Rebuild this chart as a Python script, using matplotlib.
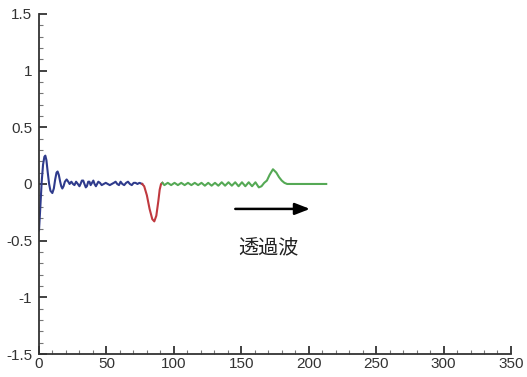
import numpy as np
import matplotlib.pyplot as plt
from matplotlib.ticker import MultipleLocator, FormatStrFormatter

plt.rcParams['axes.unicode_minus'] = False

# incident part (blue)
blue_x = [0, 1, 2, 3, 4, 4.7, 5.5, 6.5, 7.5, 8.5, 9.9, 11, 12, 13, 13.8, 14.7, 15.7, 16.5,
          17.3, 18.2, 19.2, 20.5, 21.7, 22.7, 24, 25.2, 26.3, 27.5, 28.8, 30, 30.8, 31.8,
          32.8, 33.7, 34.7, 35.5, 36.5, 37.4, 38.3, 39.3, 40.3, 41.2, 42.2, 43.1, 44, 45.2,
          46.5, 48, 49.5, 51, 52.5, 54, 55.5, 56.8, 58, 59.3, 60.5, 61.8, 63.2, 64.6, 66,
          67.4, 68.8, 70.2, 71.6, 73, 74.5, 76.5]
blue_y = [-0.41, -0.2, 0.02, 0.17, 0.24, 0.25, 0.21, 0.1, 0.0, -0.06, -0.08, -0.04, 0.04,
          0.1, 0.11, 0.08, 0.02, -0.02, -0.04, -0.02, 0.02, 0.04, 0.02, 0.0, 0.02, 0.0,
          -0.01, 0.02, 0.0, -0.02, 0.0, 0.03, 0.03, 0.0, -0.03, -0.02, 0.02, 0.02, -0.01,
          0.01, 0.03, 0.0, -0.02, 0.0, 0.02, 0.01, -0.01, 0.0, 0.01, 0.0, -0.01, 0.0, 0.01,
          0.02, 0.0, -0.01, 0.02, 0.0, -0.01, 0.01, 0.02, 0.0, -0.01, 0.01, 0.01, 0.0, 0.01,
          0.0]

# reflected dip (red)
red_x = [76.5, 78, 80, 82, 84, 85.5, 87, 88.5, 89.5, 90.5, 91.5]
red_y = [0.0, -0.02, -0.1, -0.22, -0.31, -0.33, -0.28, -0.15, -0.05, 0.0, 0.01]

# transmitted part (green)
green_x = [91.5, 93, 95.5, 98, 100.5, 103, 105.5, 108, 110.5, 113, 115.5, 118, 120.5, 123,
           125.5, 128, 130.5, 133, 135.5, 138, 140.5, 143, 145.5, 148, 150.5, 153, 155.5,
           158, 160.5, 163, 165, 167, 169, 171, 173.5, 176, 178, 180, 182, 184, 186, 190,
           200, 213]
green_y = [0.01, -0.01, 0.01, -0.01, 0.01, -0.01, 0.01, -0.01, 0.01, -0.01, 0.01, -0.01,
           0.01, -0.015, 0.01, -0.015, 0.01, -0.015, 0.015, -0.015, 0.015, -0.015, 0.015,
           -0.02, 0.015, -0.02, 0.015, -0.02, 0.015, -0.03, -0.02, 0.01, 0.03, 0.08, 0.13,
           0.1, 0.06, 0.03, 0.01, 0.0, 0.0, 0.0, 0.0, 0.0]

fig = plt.figure(figsize=(5.27, 3.77), dpi=100)
ax = fig.add_axes([0.074, 0.061, 0.8956, 0.902])

ax.plot(blue_x, blue_y, color='#2f3b8c', lw=1.5)
ax.plot(red_x, red_y, color='#c0393f', lw=1.5)
ax.plot(green_x, green_y, color='#55a955', lw=1.5)

ax.annotate('', xy=(203, -0.22), xytext=(143.5, -0.22),
            arrowprops=dict(arrowstyle='-|>,head_length=0.9,head_width=0.35', color='black', lw=1.8))
ax.text(170, -0.57, '透過波', fontsize=14.5, ha='center', va='center',
        family=['Noto Sans CJK JP', 'DejaVu Sans'], color='#222222')

ax.set_xlim(0, 350)
ax.set_ylim(-1.5, 1.5)
ax.xaxis.set_major_locator(MultipleLocator(50))
ax.xaxis.set_minor_locator(MultipleLocator(10))
ax.yaxis.set_major_locator(MultipleLocator(0.5))
ax.yaxis.set_minor_locator(MultipleLocator(0.1))
ax.yaxis.set_major_formatter(FormatStrFormatter('%g'))
ax.xaxis.set_major_formatter(FormatStrFormatter('%g'))

for s in ['top', 'right']:
    ax.spines[s].set_visible(False)
for s in ['left', 'bottom']:
    ax.spines[s].set_linewidth(1.3)
    ax.spines[s].set_color('#333333')

ax.tick_params(which='major', direction='in', length=6, width=1.3, color='#333333',
               labelsize=11, labelcolor='#333333')
ax.tick_params(which='minor', direction='in', length=3, width=0.8, color='#777777')
ax.tick_params(axis='y', pad=5)
ax.tick_params(axis='x', pad=2)
for lab in ax.get_xticklabels() + ax.get_yticklabels():
    lab.set_family(['Liberation Sans', 'DejaVu Sans'])

fig.savefig('out.png', dpi=100)
